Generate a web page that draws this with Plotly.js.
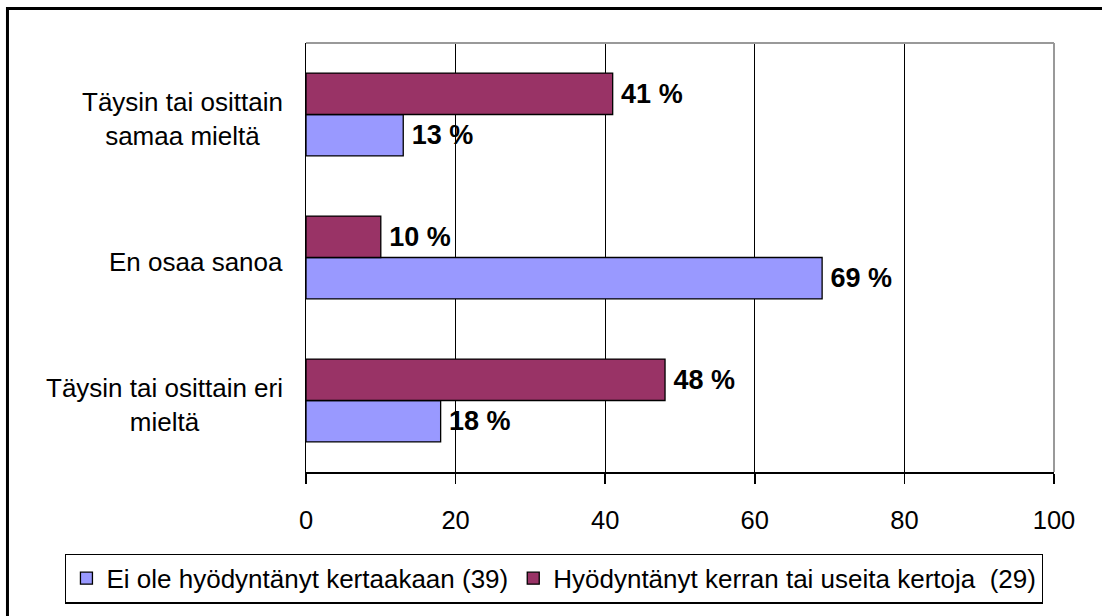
<!DOCTYPE html>
<html>
<head>
<meta charset="utf-8">
<script src="https://cdn.plot.ly/plotly-3.0.1.min.js"></script>
<style>
html,body{margin:0;padding:0;background:#fff;}
#chart{width:1102px;height:616px;}
</style>
</head>
<body>
<div id="chart"></div>
<script>
// Categories listed bottom to top
var categories = ["Täysin tai osittain eri mieltä", "En osaa sanoa", "Täysin tai osittain samaa mieltä"];
var categoryLabels = ["Täysin tai osittain eri<br>mieltä", "En osaa sanoa", "Täysin tai osittain<br>samaa mieltä"];
var seriesNames = ["Ei ole hyödyntänyt kertaakaan (39)", "Hyödyntänyt kerran tai useita kertoja  (29)"];
var neverUsed = [18, 69, 13];
var usedOnceOrMore = [48, 10, 41];
var xTicks = [0, 20, 40, 60, 80, 100];

var FONT = "Arial, 'Liberation Sans', sans-serif";

function barTrace(name, values, color) {
  return {
    type: "bar",
    orientation: "h",
    name: name,
    y: categories,
    x: values,
    marker: {color: color, line: {color: "#000", width: 1.3}},
    texttemplate: "\u2009%{x} %",
    textposition: "outside",
    constraintext: "none",
    cliponaxis: false,
    textfont: {family: FONT, size: 27, color: "#000", weight: "bold"},
    hoverinfo: "x+y"
  };
}

var data = [
  barTrace(seriesNames[0], neverUsed, "#9999FF"),
  barTrace(seriesNames[1], usedOnceOrMore, "#993366")
];

var annotations = categories.map(function (c, i) {
  return {
    xref: "paper", yref: "y",
    x: -0.028, y: c,
    xanchor: "right", yanchor: "middle",
    align: "center",
    text: categoryLabels[i],
    showarrow: false,
    yshift: -4,
    font: {family: FONT, size: 26, color: "#000"}
  };
});

var layout = {
  width: 1102,
  height: 616,
  margin: {l: 306, r: 48, t: 43, b: 139, pad: 0},
  paper_bgcolor: "#fff",
  plot_bgcolor: "#fff",
  font: {family: FONT, size: 25, color: "#000"},
  barmode: "group",
  bargap: 0.42,
  bargroupgap: 0,
  showlegend: true,
  legend: {
    orientation: "h",
    x: -0.322, xanchor: "left",
    y: -0.19, yanchor: "top",
    bordercolor: "#000", borderwidth: 1.3,
    bgcolor: "#fff",
    font: {family: FONT, size: 26, color: "#000"},
    traceorder: "normal",
    itemwidth: 30,
    tracegroupgap: 0
  },
  xaxis: {
    range: [0, 100],
    tickvals: xTicks,
    ticktext: xTicks.map(String),
    showgrid: true,
    gridcolor: "#000",
    gridwidth: 1.3,
    zeroline: false,
    showline: true,
    linecolor: "#000",
    linewidth: 1.5,
    ticks: "outside",
    ticklen: 10,
    tickcolor: "#000",
    tickwidth: 1.5,
    ticklabelstandoff: 15,
    tickfont: {family: FONT, size: 25.5, color: "#000"},
    fixedrange: true
  },
  yaxis: {
    type: "category",
    categoryorder: "array",
    categoryarray: categories,
    showticklabels: false,
    ticks: "",
    showgrid: false,
    zeroline: false,
    showline: true,
    linecolor: "#000",
    linewidth: 1.5,
    fixedrange: true
  },
  annotations: annotations,
  shapes: [
    // plot area top and right border (grey)
    {type: "line", xref: "paper", yref: "paper", x0: 0, x1: 1, y0: 1, y1: 1,
     line: {color: "#999", width: 2}, layer: "above"},
    {type: "line", xref: "paper", yref: "paper", x0: 1, x1: 1, y0: 0, y1: 1,
     line: {color: "#999", width: 2}, layer: "above"},
    // outer chart frame (extends beyond the visible area on right and bottom)
    {type: "rect", xref: "paper", yref: "paper",
     x0: -0.3991, x1: 1.08, y0: -0.36, y1: 1.0806,
     line: {color: "#000", width: 3}, fillcolor: "rgba(0,0,0,0)", layer: "above"}
  ]
};

Plotly.newPlot("chart", data, layout, {displayModeBar: false, staticPlot: true});
</script>
</body>
</html>
